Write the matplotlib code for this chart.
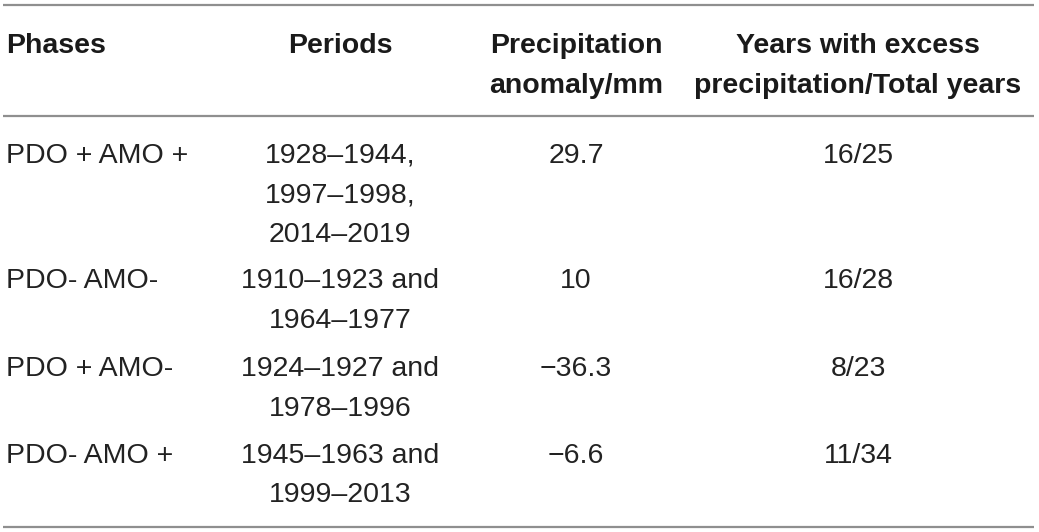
import matplotlib.pyplot as plt

# table content
headers = ["Phases", "Periods", "Precipitation\nanomaly/mm", "Years with excess\nprecipitation/Total years"]
phases = ["PDO + AMO +", "PDO- AMO-", "PDO + AMO-", "PDO- AMO +"]
periods = ["1928\u20131944,\n1997\u20131998,\n2014\u20132019",
           "1910\u20131923 and\n1964\u20131977",
           "1924\u20131927 and\n1978\u20131996",
           "1945\u20131963 and\n1999\u20132013"]
anomaly = ["29.7", "10", "\u221236.3", "\u22126.6"]
years_ratio = ["16/25", "16/28", "8/23", "11/34"]

W, H = 1039, 532
fig = plt.figure(figsize=(W / 100, H / 100), dpi=100)
ax = fig.add_axes([0, 0, 1, 1])
ax.set_xlim(0, W)
ax.set_ylim(H, 0)
ax.axis('off')

font = ['Liberation Sans', 'DejaVu Sans']
fs = 20.5
cap_half = 10.2          # half cap height in px, to go from line centre to baseline
col_x = [6, 340, 576, 858]
col_ha = ['left', 'center', 'center', 'center']


def put(x, y_center, txt, ha, gap, **kw):
    # one call per line so line spacing is exact
    for k, line in enumerate(txt.split('\n')):
        ax.text(x, y_center + k * gap + cap_half, line, ha=ha, va='baseline',
                fontsize=fs, family=font, **kw)


# rules
for y in [5.3, 116.3, 526.7]:
    ax.plot([3, 1034], [y, y], color='#8f8f8f', lw=1.6, solid_capstyle='butt')

# header
for i, (txt, x, ha) in enumerate(zip(headers, col_x, col_ha)):
    put(x, 42.5, txt, ha, 40, fontweight='bold', color='#1a1a1a')

# body rows, centre of the first text line
row_y = [152.8, 278, 366, 452.7]
for i, y0 in enumerate(row_y):
    cells = [phases[i], periods[i], anomaly[i], years_ratio[i]]
    for txt, x, ha in zip(cells, col_x, col_ha):
        put(x, y0, txt, ha, 39.4, color='#222222')

fig.savefig('out.png', dpi=100, facecolor='white')
